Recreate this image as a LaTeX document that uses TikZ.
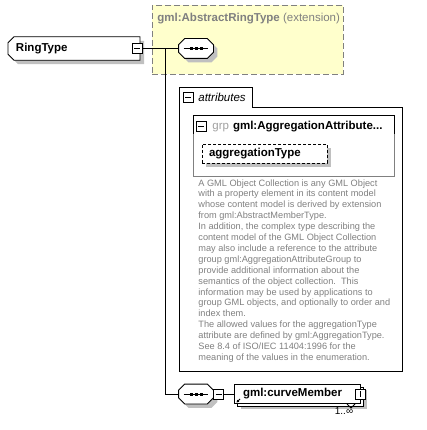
\documentclass[tikz,border=0pt]{standalone}
\usepackage{fontspec}
\setmainfont{Liberation Sans}
\usetikzlibrary{arrows.meta,shapes.misc,shadows}
\definecolor{extyellow}{RGB}{255,255,204}
\definecolor{dgray}{RGB}{128,128,128}
\definecolor{shgray}{RGB}{192,192,192}
\definecolor{grptext}{RGB}{160,160,160}
% octagon round a named node, shifted down-right by #2 pt
\newcommand{\octpath}[2]{%
  ([shift={(#2pt+6pt,-#2pt)}]#1.north west) -- ([shift={(#2pt-6pt,-#2pt)}]#1.north east)
  -- ([shift={(#2pt,-#2pt-6pt)}]#1.north east) -- ([shift={(#2pt,-#2pt+6pt)}]#1.south east)
  -- ([shift={(#2pt-6pt,-#2pt)}]#1.south east) -- ([shift={(#2pt+6pt,-#2pt)}]#1.south west)
  -- ([shift={(#2pt,-#2pt+6pt)}]#1.south west) -- ([shift={(#2pt,-#2pt-6pt)}]#1.north west) -- cycle}
\newcommand{\seqmark}[1]{%
  \fill[shgray] \octpath{#1}{4};
  \filldraw[fill=white] \octpath{#1}{0};
  \draw ([xshift=5pt]#1.west) -- ([xshift=-5pt]#1.east);
  \foreach \dx in {-5,0,5}
    \fill ([xshift=\dx pt]#1.center) +(-1.5pt,-1.5pt) rectangle +(1.5pt,1.5pt);}
\tikzset{
  every picture/.style={line width=0.8pt},
  lbl/.style={font=\bfseries\fontsize{11.5}{13}\selectfont},
  shad/.style={general shadow={fill=shgray, shadow xshift=4pt, shadow yshift=-4pt}},
  typebox/.style={chamfered rectangle, chamfered rectangle corners={north west,south west},
                  chamfered rectangle xsep=3pt, chamfered rectangle ysep=3pt, draw, fill=white, shad, lbl,
                  minimum width=126pt, minimum height=21pt, text width=116pt, inner xsep=5pt, align=left},
  seqbox/.style={rectangle, minimum width=34pt, minimum height=19pt, inner sep=0pt},
  togminus/.style={draw, fill=white, minimum size=10pt, inner sep=0pt,
                   path picture={\draw ([xshift=2pt]path picture bounding box.west) -- ([xshift=-2pt]path picture bounding box.east);}},
  togplus/.style={togminus,
                  path picture={\draw ([yshift=-2pt]path picture bounding box.north) -- ([yshift=2pt]path picture bounding box.south);}},
  extbox/.style={draw=dgray, dash pattern=on 6pt off 3pt, fill=extyellow, minimum width=191pt, minimum height=69pt},
  attrbox/.style={draw, dash pattern=on 3pt off 2pt, fill=white, shad, lbl,
                  minimum width=125pt, minimum height=19pt, text width=111pt, inner xsep=7pt, align=left},
  refbox/.style={draw, fill=white, lbl,
                 general shadow={fill=shgray, shadow xshift=7pt, shadow yshift=-5pt},
                 copy shadow={shadow xshift=3pt, shadow yshift=-3pt},
                 minimum width=126pt, minimum height=19pt, text width=108pt, inner xsep=9pt, align=left},
  desc/.style={text=dgray, font=\fontsize{9.2}{10.9}\selectfont, align=left, inner sep=0pt},
}
\begin{document}
\begin{tikzpicture}[x=1pt,y=-1pt]
  \useasboundingbox (0,0) rectangle (427,430);
  % extension area
  \node[extbox] (ext) at (247.5,39.5) {};
  \node[anchor=west, inner sep=0pt, text=dgray, font=\fontsize{11.5}{13}\selectfont] (exttitle) at (157,19)
    {\textbf{gml:AbstractRingType} (extension)};

  % complex type
  \node[typebox] (ring) at (74,48.5) {RingType};
  \node[togminus] (ringminus) at (137,48.5) {};
  \node[seqbox] (seqA) at (196,48.5) {};
  \seqmark{seqA}
  \coordinate (fork) at (165,48.5);
  \draw (ringminus) -- (seqA);

  % attributes
  \draw (179,87) -- (252,87) -- (252,107) -- (402,107) -- (402,371) -- (179,371) -- cycle;
  \node[togminus] (attrminus) at (188,97) {};
  \node[anchor=west, inner sep=0pt, font=\itshape\fontsize{11.5}{13}\selectfont] (attrtitle) at (198,97) {attributes};

  \draw (193,134) -- (193,115) -- (394,115) -- (394,134);
  \draw[gray] (193,134) -- (193,176) -- (394,176) -- (394,134);
  \node[togminus] (grpminus) at (201,126.5) {};
  \node[anchor=west, inner sep=0pt, font=\fontsize{11.5}{13}\selectfont] (grptitle) at (212,126.5)
    {\textcolor{grptext}{grp}\hspace{4pt}\textbf{gml:AggregationAttribute...}};
  \node[attrbox] (aggtype) at (264.5,153.5) {aggregationType};

  \node[desc, anchor=north west] (descr) at (198,179)
    {A GML Object Collection is any GML Object\\
     with a property element in its content model\\
     whose content model is derived by extension\\
     from gml:AbstractMemberType.\\
     In addition, the complex type describing the\\
     content model of the GML Object Collection\\
     may also include a reference to the attribute\\
     group gml:AggregationAttributeGroup to\\
     provide additional information about the\\
     semantics of the object collection.\ \ This\\
     information may be used by applications to\\
     group GML objects, and optionally to order and\\
     index them.\\
     The allowed values for the aggregationType\\
     attribute are defined by gml:AggregationType.\\
     See 8.4 of ISO/IEC 11404:1996 for the\\
     meaning of the values in the enumeration.};

  % content sequence
  \node[seqbox] (seqB) at (196,394) {};
  \seqmark{seqB}
  \node[togminus] (seqBminus) at (218.5,394) {};
  \node[refbox] (curve) at (297,394) {gml:curveMember};
  \node[togplus] (curveplus) at (360,394) {};
  \draw[-{Triangle[length=2.5pt,width=2.5pt]}] (240,399) -- (236.5,402.5);
  \draw (347,404) -- (351,408) -- (355,404);
  \node[font=\fontsize{10}{12}\selectfont, inner sep=0pt] (card) at (344,411.5) {1..∞};

  \draw (fork) |- (seqB);
  \draw (seqBminus) -- (curve);
\end{tikzpicture}
\end{document}
